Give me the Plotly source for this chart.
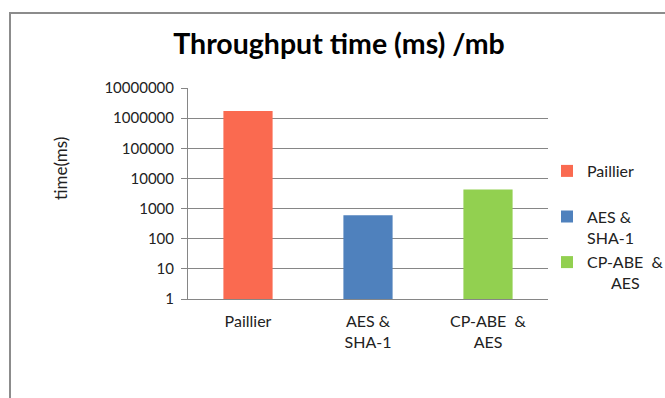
import plotly.graph_objects as go

categories = ["Paillier", "AES &<br>SHA-1", "CP-ABE\u00a0 &<br>AES"]
legend_names = ["Paillier<br>\u00a0", "AES &<br>SHA-1", "CP-ABE\u00a0 &<br>\u00a0\u00a0\u00a0\u00a0\u00a0\u00a0AES"]
values = [1740000, 600, 4260]
colors = ["#FA6A50", "#4F81BD", "#92D050"]
tick_vals = [1, 10, 100, 1000, 10000, 100000, 1000000, 10000000]
tick_text = ["1", "10", "100", "1000", "10000", "100000", "1000000", "10000000"]

FONT = "Lato, 'Open Sans', sans-serif"
W, H = 665, 398
L, R, T, B = 188, 117, 88, 99
pw, ph = W - L - R, H - T - B

def px_x(x):
    return (x - L) / pw

def px_y(y):
    return (H - B - y) / ph

fig = go.Figure()
for i in range(len(categories)):
    fig.add_trace(go.Bar(
        x=[categories[i]], y=[values[i]], name=legend_names[i],
        marker=dict(color=colors[i], line=dict(width=0)),
        width=0.41, legendgroup=str(i),
    ))

fig.update_layout(
    width=W, height=H,
    margin=dict(l=L, r=R, t=T, b=B, autoexpand=False),
    paper_bgcolor="white", plot_bgcolor="white",
    font=dict(family=FONT, size=16, color="#222"),
    title=dict(text="<b>Throughput time (ms) /mb</b>", x=339 / W, xanchor="center",
               xref="container", y=1 - 44 / H, yanchor="middle",
               font=dict(size=28.5, color="black")),
    barmode="group",
    showlegend=True,
    legend=dict(x=px_x(547), xanchor="left", y=px_y(154), yanchor="top",
                valign="top", traceorder="grouped", tracegroupgap=1,
                font=dict(size=16, color="#222"), bgcolor="rgba(0,0,0,0)"),
    xaxis=dict(type="category", range=[-0.5, 2.5], showgrid=False,
               showline=True, linecolor="#868686", linewidth=1,
               ticks="", ticklabelstandoff=8, tickfont=dict(size=16)),
    yaxis=dict(type="log", range=[0, 7], tickvals=tick_vals, ticktext=tick_text,
               showgrid=True, gridcolor="#868686", gridwidth=1,
               showline=True, linecolor="#868686", linewidth=1,
               ticks="outside", ticklen=6, tickcolor="#868686",
               ticklabelstandoff=4, zeroline=False, tickfont=dict(size=15)),
    shapes=[dict(type="rect", xref="paper", yref="paper",
                 x0=px_x(10), x1=px_x(720), y0=px_y(440), y1=px_y(13),
                 line=dict(color="#8C8C8C", width=2), fillcolor="rgba(0,0,0,0)", layer="below")],
    annotations=[dict(text="time(ms)", xref="paper", yref="paper",
                      x=px_x(60), y=px_y(169), textangle=-90, showarrow=False,
                      xanchor="center", yanchor="middle", font=dict(size=17, color="#222"))],
)

fig.write_html("out.html")
